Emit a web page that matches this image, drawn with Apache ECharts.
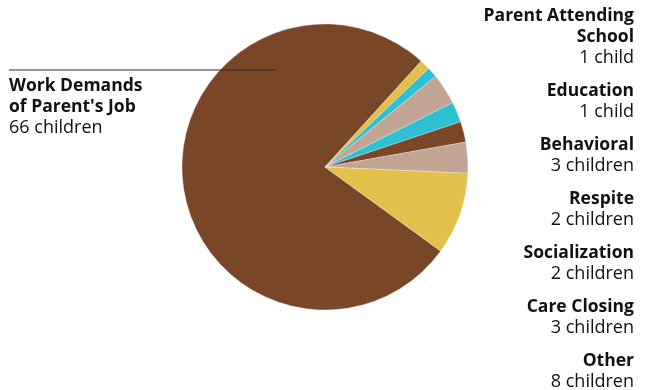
<!DOCTYPE html>
<html>
<head>
<meta charset="utf-8">
<script src="https://cdn.jsdelivr.net/npm/echarts@6/dist/echarts.min.js"></script>
<style>
  html, body { margin: 0; padding: 0; background: #fff; }
  #reasons { width: 652px; height: 390px; }
</style>
</head>
<body>
<div id="reasons"></div>
<script>
// data, slices clockwise starting at the big one
const categories = [
  "Work Demands\nof Parent's Job",
  "Parent Attending\nSchool",
  "Education",
  "Behavioral",
  "Respite",
  "Socialization",
  "Care Closing",
  "Other",
];
const children = [66, 1, 1, 3, 2, 2, 3, 8];
const sliceColors = ["#7a4628", "#e3bf4c", "#2ebfd2", "#c0a593", "#2ebfd2", "#7a4628", "#c0a593", "#e3bf4c"];

const countText = (n) => n + (n === 1 ? " child" : " children");
const fontFamily = "'Open Sans', 'Noto Sans', sans-serif";
const boldFont = "bold 17.5px " + fontFamily;
const plainFont = "18px " + fontFamily;

let chart = echarts.init(document.getElementById("reasons"));

// right column of labels (everything except the big slice)
let rightTexts = [];
let y = 16;
for (let i = 1; i < categories.length; i++) {
  categories[i].split("\n").forEach((line) => {
    rightTexts.push({
      type: "text",
      right: 18,
      y: y,
      style: { text: line, fill: "#111", font: boldFont, textAlign: "right", textVerticalAlign: "middle" },
    });
    y += 20.8;
  });
  rightTexts.push({
    type: "text",
    right: 18,
    y: y,
    style: { text: countText(children[i]), fill: "#111", font: plainFont, textAlign: "right", textVerticalAlign: "middle" },
  });
  y += 20.8 + 12.5;
}

// callout for the big slice on the left, line runs into the pie
let leftTexts = [
  { type: "line", z: 100, shape: { x1: 9, y1: 70, x2: 276, y2: 70 }, style: { stroke: "#2a2a2a", lineWidth: 1 } },
  {
    type: "text", x: 9, y: 76,
    style: { text: categories[0], fill: "#111", font: boldFont, lineHeight: 21 },
  },
  {
    type: "text", x: 9, y: 119,
    style: { text: countText(children[0]), fill: "#111", font: plainFont },
  },
];

let option = {
  animation: false,
  series: [
    {
      type: "pie",
      center: [325, 167],
      radius: 143,
      startAngle: -36,
      clockwise: true,
      label: { show: false },
      labelLine: { show: false },
      itemStyle: { borderColor: "#fff", borderWidth: 0.3 },
      data: categories.map((name, i) => ({
        name: name,
        value: children[i],
        itemStyle: { color: sliceColors[i] },
      })),
    },
  ],
  graphic: leftTexts.concat(rightTexts),
};
chart.setOption(option, true);
</script>
</body>
</html>
